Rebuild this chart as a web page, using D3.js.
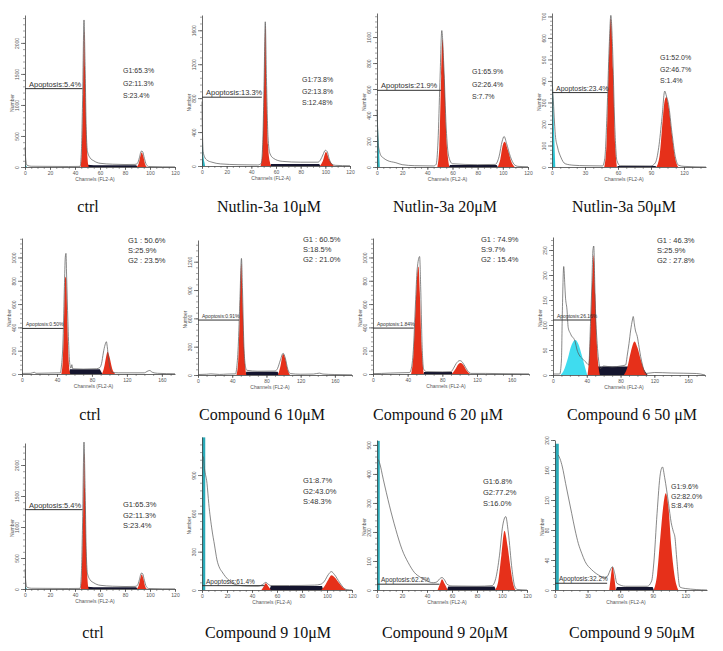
<!DOCTYPE html>
<html>
<head>
<meta charset="utf-8">
<script src="https://cdn.jsdelivr.net/npm/d3@7"></script>
<style>
body { margin: 0; background: #fff; }
svg { display: block; }
</style>
</head>
<body>
<div id="chart"></div>
<script>
// panel order: row 1 (Nutlin-3a), row 2 (Compound 6), row 3 (Compound 9)
const panelTitles = ["ctrl", "Nutlin-3a 10\u03bcM", "Nutlin-3a 20\u03bcM", "Nutlin-3a 50\u03bcM",
    "ctrl", "Compound 6 10\u03bcM", "Compound 6 20 \u03bcM", "Compound 6 50 \u03bcM",
    "ctrl", "Compound 9 10\u03bcM", "Compound 9 20\u03bcM", "Compound 9 50\u03bcM"];

const statLines = [
    ["G1:65.3%", "G2:11.3%", "S:23.4%"],
    ["G1:73.8%", "G2:13.8%", "S:12.48%"],
    ["G1:65.9%", "G2:26.4%", "S:7.7%"],
    ["G1:52.0%", "G2:46.7%", "S:1.4%"],
    ["G1 : 50.6%", "S:25.9%", "G2 : 23.5%"],
    ["G1 : 60.5%", "S:18.5%", "G2 : 21.0%"],
    ["G1 : 74.9%", "S:9.7%", "G2 : 15.4%"],
    ["G1 : 46.3%", "S:25.9%", "G2 : 27.8%"],
    ["G1:65.3%", "G2:11.3%", "S:23.4%"],
    ["G1:8.7%", "G2:43.0%", "S:48.3%"],
    ["G1:6.8%", "G2:77.2%", "S:16.0%"],
    ["G1:9.6%", "G2:82.0%", "S:8.4%"]
];

const apoptosisLabels = ["Apoptosis:5.4%", "Apoptosis:13.3%", "Apoptosis:21.9%", "Apoptosis:23.4%",
    "Apoptosis:0.50%", "Apoptosis:0.91%", "Apoptosis:1.84%", "Apoptosis:26.16%",
    "Apoptosis:5.4%", "Apoptosis:61.4%", "Apoptosis:62.2%", "Apoptosis:32.2%"];

// [count level, last channel] of the apoptosis marker
const apoptosisMarks = [[1263, 46], [811, 48.5], [590, 51], [346, 50.5],
    [391, 47.5], [582, 48], [394, 47], [110, 45],
    [1280, 46], [34, 50], [20, 50], [9, 48]];

const channelMax = [120, 120, 120, 140, 175, 180, 180, 180, 120, 120, 120, 140];
const channelStep = [20, 20, 20, 30, 40, 40, 40, 40, 20, 20, 20, 30];
const countMax = [2450, 1780, 1185, 716, 1167, 1430, 1167, 276, 2355, 1198, 517, 200];
const countStep = [500, 400, 200, 100, 200, 300, 200, 50, 500, 300, 100, 40];

// histogram outlines, [channel, count]
const ctrlOutline = [[0,320],[0.6,120],[1.5,30],[5,12],[20,10],[35,8],[44,10],[45,200],[46,1000],[47.2,2370],[48,1700],[49,600],[50,250],[52,150],[55,100],[60,60],[70,45],[80,40],[88,42],[90,60],[91.5,150],[93,255],[94,250],[95.5,140],[97,40],[99,8],[110,3],[120,2]];
const outlineData = [
    ctrlOutline,
    [[0,760],[0.4,380],[1,170],[2,110],[4,70],[8,45],[15,25],[30,15],[45,12],[48,30],[49.2,250],[50.3,950],[51.3,1700],[52.3,1000],[53.5,350],[55,150],[58,90],[65,55],[80,45],[94,45],[96,70],[98,130],[100,185],[101.5,170],[103,90],[105,25],[108,8],[120,3]],
    [[0,440],[0.5,300],[1,180],[2,120],[3,90],[5,70],[8,51],[15,33],[20,18],[30,10],[45,8],[47,20],[48.5,200],[50,650],[51.5,1050],[53,800],[55,300],[57,80],[60,25],[80,18],[94,20],[97,80],[99.5,200],[101,235],[103,180],[106,80],[109,20],[112,5],[120,2]],
    [[0,400],[1,330],[2,232],[3,150],[5,93],[8,46],[12,15],[20,8],[30,6],[46,5],[48,40],[50,250],[52,560],[53.5,705],[55,560],[57,200],[59,30],[62,6],[90,5],[94,20],[97,90],[100,230],[102.5,353],[104,330],[106,290],[109,160],[112,50],[115,8],[120,3],[140,0]],
    [[0,5],[10,6],[14,15],[16,6],[30,8],[44,10],[45,60],[47,300],[48.5,750],[49.5,1000],[50.3,1035],[51,850],[52.5,450],[54,150],[55,70],[56,50],[57,80],[58,45],[70,42],[85,45],[89,55],[91,90],[93,180],[95,250],[96.5,277],[97.5,235],[99,130],[101,45],[103,15],[110,10],[140,10],[143,22],[146,30],[149,15],[155,6],[175,2]],
    [[0,5],[10,8],[15,12],[25,6],[35,10],[44,12],[45,60],[47,300],[49,800],[50.8,1235],[52,900],[53.5,350],[55,120],[57,50],[70,40],[90,42],[93,70],[96,150],[99.5,230],[102,180],[105,60],[108,15],[120,8],[135,10],[142,20],[146,10],[160,5],[180,2]],
    [[0,3],[10,5],[20,8],[30,10],[42,12],[44,40],[46.5,200],[49,600],[51,900],[53.8,1008],[55,750],[56.5,280],[58.5,40],[62,20],[80,18],[90,20],[93,50],[96,90],[100,115],[102,110],[105,80],[109,30],[113,5],[130,5],[150,3],[180,1]],
    [[0,2],[8,2],[10,30],[11,120],[12.7,217],[14,180],[14.6,160],[16.6,130],[18,95],[20.6,83],[22,78],[24.6,73],[26,68],[28.5,50],[31,40],[34.5,33],[38,27],[40.4,23],[42.4,20],[44.4,103],[46,180],[47.3,250],[48.3,258],[49.5,180],[50.5,120],[52.3,63],[54,30],[56.2,13],[60,18],[70,16],[80,18],[86,20],[88,40],[90,63],[92,90],[94,110],[95,117],[96.5,100],[97.5,90],[99.8,77],[102,55],[103.8,37],[106,20],[109.7,3],[120,5],[140,4],[170,3],[180,0]],
    ctrlOutline,
    [[0,1050],[1,1044],[2,950],[4,835],[5.4,678],[8,470],[10,352],[12,235],[14.2,170],[16,143],[18.8,104],[22.8,65],[28,39],[36,31],[45,30],[47,35],[49.5,50],[51,60],[53,45],[55,35],[70,35],[90,38],[95,45],[98,70],[101,120],[103.5,144],[106,120],[110,60],[113,20],[116,3],[120,0]],
    [[1,450],[2,439],[5,382],[10,290],[15,209],[20,140],[25,94],[30,60],[35,43],[40,31],[45,25],[48,28],[50,38],[52,43],[54,35],[56,20],[60,14],[80,13],[92,15],[95,40],[98,120],[100.5,220],[103,253],[105,200],[108,71],[110,15],[112,2],[120,0]],
    [[3,180],[4.6,175],[6.8,164],[9.8,142],[12.3,124],[15.4,102],[18.5,80],[21.5,62],[24.6,49],[27.7,38],[33.8,27],[40,20],[46,16],[49,20],[51,27],[52.9,31],[55,22],[57,9],[65,5],[85,5],[89,12],[91,36],[94,102],[97,155],[99,164],[101,150],[104.6,115],[107,90],[109,78],[110.5,70],[112,44],[115,4],[120,2],[140,0]]
];

// fitted G1 peaks (red)
const ctrlG1 = [[44.5,0],[45.5,300],[46.5,1200],[47.3,2200],[48,1600],[49,600],[50,150],[51,0]];
const g1Data = [
    ctrlG1,
    [[47.5,0],[49,150],[50.3,900],[51.3,1650],[52.3,900],[53.5,250],[55,50],[56,0]],
    [[48,0],[49.5,150],[51,700],[52,985],[53.5,700],[55,250],[56.5,60],[57.5,0]],
    [[47.5,0],[49.5,100],[51.5,450],[53.5,690],[55.5,450],[57.5,100],[59,0]],
    [[45,0],[46.5,100],[48,400],[49.5,834],[50.5,820],[52,400],[53.5,100],[55.2,0]],
    [[45,0],[47,150],[49,700],[50.5,1180],[52,800],[54,250],[56.5,0]],
    [[44,0],[46.5,150],[49,550],[51,850],[52.5,923],[54,700],[56,250],[58.5,0]],
    [[41,0],[43,40],[45,120],[47,210],[48.3,240],[50,160],[52,60],[54,15],[55.5,0]],
    ctrlG1,
    [[47.5,0],[49.5,30],[51,52],[53,30],[55,0]],
    [[48.5,0],[50.5,22],[52,37],[54,22],[56.5,0]],
    [[50,0],[51.5,18],[53,31],[54.5,18],[56,0]]
];

// fitted G2 peaks (red)
const ctrlG2 = [[89.5,0],[91,60],[92.5,190],[93.3,235],[94.5,180],[96,50],[97.5,0]];
const g2Data = [
    ctrlG2,
    [[95.5,0],[98,60],[100.5,165],[103,80],[106,15],[107,0]],
    [[96,0],[98,60],[100,170],[101.5,195],[104,130],[107,35],[109.5,0]],
    [[95,0],[98,60],[101,240],[102.5,310],[104,325],[106,280],[109,150],[112,40],[114.7,0]],
    [[91.5,0],[94,60],[96,140],[98,191],[100,150],[103,50],[106.5,0]],
    [[93.5,0],[96,80],[99.5,222],[102,170],[105,50],[107.5,0]],
    [[91,0],[95,40],[98,80],[101,94],[104,80],[108,30],[112,0]],
    [[84,0],[88,15],[92,45],[96.6,67],[100,55],[104,30],[108,10],[111,0]],
    ctrlG2,
    [[95.5,0],[98,30],[101,80],[103.5,115],[106,100],[110,50],[113,15],[115.5,0]],
    [[94.5,0],[97,30],[99.5,120],[102,204],[104.5,150],[107,70],[109,20],[110.7,0]],
    [[91,0],[94,20],[97,70],[100,115],[102,129],[104.5,110],[107,60],[110,20],[113.5,0]]
];

// S-phase band (dark)
const ctrlS = [[49,0],[50,35],[55,30],[89,30],[90,0]];
const sBandData = [
    ctrlS,
    [[55,0],[56,25],[95,25],[96,0]],
    [[57,0],[58,15],[95,15],[96,0]],
    [[59,0],[60,5],[94,5],[95,0]],
    [[53,0],[55,40],[89,40],[92,0]],
    [[55,0],[56.5,35],[93,35],[95,0]],
    [[58,0],[59,17],[91,17],[92,0]],
    [[43,0],[47,17],[105,17],[112,0]],
    ctrlS,
    [[54,0],[55,31],[96,31],[97,0]],
    [[56,0],[57,12],[94,12],[95,0]],
    [[56,0],[57,4],[90,4],[91,0]]
];

// sub-G1 / debris (cyan)
const ctrlDebris = [[0,40],[1,20],[1.5,0]];
const debrisData = [
    ctrlDebris,
    [[0,340],[0.6,220],[1.2,110],[2,40],[2.5,0]],
    [[0,440],[0.8,300],[1.5,150],[2.2,0]],
    [[0,400],[1,330],[2,150],[3,0]],
    [], [], [],
    [[9,0],[13,10],[17,30],[22,60],[26.5,70],[30,62],[34,40],[38,15],[40.5,0]],
    ctrlDebris,
    [[0,1195],[2.6,1195]],
    [[0,514],[2.2,514]],
    [[0,195],[3.5,195]]
];

// layout: [left, right, top, bottom] of each plot area, in px
const frames = [[25,175,15,167],[202,350,15,166],[377,528,13,167],[552,706,13,167],
    [22,175,238,374],[198,352,240,375],[373,529,238,374],[553,705,237,375],
    [25,175,443,589],[202,352,437,590],[377,527,440,590],[555,707,440,590]];
// stats: [x, first baseline, line step, font size]
const statPos = [[123,73,12.5,7],[302,82,11.5,7],[472,74,12.5,7],[660,60,11.5,7],
    [128,243,10,7.5],[303,242,10,7.5],[481,242,10,7.5],[657,243,10,7.5],
    [123,507,10.5,7.5],[303,483,10.5,7.5],[483,484,11,7.5],[671,489,9.5,7]];
const titleX = [88, 269, 445, 624, 90, 262, 438, 632, 93, 268, 445, 632];
const titleY = [212, 212, 212, 212, 420, 420, 420, 420, 638, 638, 638, 638];
const apopFont = [7.5, 7.5, 7.5, 7, 5, 5, 5, 5, 7.5, 6.5, 6.5, 6.5];
const debrisColor = ["#2bb3c0", "#2bb3c0", "#2bb3c0", "#2bc4d4", "#2bb3c0", "#2bb3c0", "#2bb3c0", "#3fdcef",
    "#2bb3c0", "#2aaab8", "#2aaab8", "#2aaab8"];

const red = "#e6301a";
const sans = "'Liberation Sans', Arial, sans-serif";
const serif = "'Liberation Serif', 'Times New Roman', serif";

let svg = d3.select("#chart").append("svg")
    .attr("width", 723)
    .attr("height", 651)
    .style("font-family", sans);

panelTitles.forEach((title, i) => {
    let f = frames[i];
    let x = d3.scaleLinear().domain([0, channelMax[i]]).range([f[0], f[1]]);
    let y = d3.scaleLinear().domain([0, countMax[i]]).range([f[3], f[2]]);
    let g = svg.append("g");

    let area = d3.area()
        .x((d) => x(d[0]))
        .y0(y(0))
        .y1((d) => y(d[1]))
        .curve(d3.curveMonotoneX);
    let line = d3.line()
        .x((d) => x(d[0]))
        .y((d) => y(d[1]))
        .curve(d3.curveMonotoneX);

    if (debrisData[i].length) {
        g.append("path").attr("d", area(debrisData[i])).attr("fill", debrisColor[i]);
    }
    g.append("path").attr("d", d3.area().x((d) => x(d[0])).y0(y(0)).y1((d) => y(d[1]))(sBandData[i]))
        .attr("fill", "#15152e");
    g.append("path").attr("d", area(g1Data[i])).attr("fill", red);
    g.append("path").attr("d", area(g2Data[i])).attr("fill", red);
    g.append("path").attr("d", line(outlineData[i]))
        .attr("fill", "none")
        .attr("stroke", "#555")
        .attr("stroke-width", 0.7);

    // axes
    let yTicks = d3.range(0, countMax[i] + 1, countStep[i]);
    let yMinor = d3.range(0, countMax[i] + 1, countStep[i] / 5);
    let xTicks = d3.range(0, channelMax[i] + 1, channelStep[i]);
    let xMinor = d3.range(0, channelMax[i] + 1, channelStep[i] / 4);

    g.append("g")
        .attr("transform", "translate(" + f[0] + ",0)")
        .call(d3.axisLeft(y).tickValues(yMinor).tickSize(2).tickFormat(""))
        .call((a) => a.select(".domain").remove())
        .selectAll("line").attr("stroke", "#666").attr("stroke-width", 0.6);
    let yAxis = g.append("g")
        .attr("transform", "translate(" + f[0] + ",0)")
        .call(d3.axisLeft(y).tickValues(yTicks).tickFormat(d3.format("d")).tickSizeInner(4).tickSizeOuter(0));
    yAxis.select(".domain").attr("stroke", "#444").attr("stroke-width", 0.8);
    yAxis.selectAll("line").attr("stroke", "#444").attr("stroke-width", 0.7);
    yAxis.selectAll("text")
        .attr("x", 0).attr("dy", 0)
        .attr("text-anchor", "middle")
        .attr("transform", "translate(-6,0) rotate(-90)")
        .attr("font-size", 5)
        .attr("font-family", sans)
        .attr("fill", "#555");

    g.append("g")
        .attr("transform", "translate(0," + f[3] + ")")
        .call(d3.axisBottom(x).tickValues(xMinor).tickSize(2).tickFormat(""))
        .call((a) => a.select(".domain").remove())
        .selectAll("line").attr("stroke", "#666").attr("stroke-width", 0.6);
    let xAxis = g.append("g")
        .attr("transform", "translate(0," + f[3] + ")")
        .call(d3.axisBottom(x).tickValues(xTicks).tickSizeInner(3).tickSizeOuter(0).tickPadding(1));
    xAxis.select(".domain").attr("stroke", "#444").attr("stroke-width", 0.8);
    xAxis.selectAll("text")
        .attr("font-size", 5)
        .attr("font-family", sans)
        .attr("fill", "#555");
    xAxis.selectAll("line").attr("stroke", "#444").attr("stroke-width", 0.7);

    g.append("text")
        .attr("transform", "translate(" + (f[0] - 11) + "," + ((f[2] + f[3]) / 2 + 12) + ") rotate(-90)")
        .attr("text-anchor", "middle")
        .attr("font-size", 5)
        .attr("fill", "#555")
        .text("Number");
    g.append("text")
        .attr("x", (f[0] + f[1]) / 2 - 5)
        .attr("y", f[3] + 13.5)
        .attr("text-anchor", "middle")
        .attr("font-size", 5)
        .attr("fill", "#555")
        .text("Channels (FL2-A)");

    // apoptosis marker
    let am = apoptosisMarks[i];
    g.append("line")
        .attr("x1", x(0)).attr("x2", x(am[1]))
        .attr("y1", y(am[0])).attr("y2", y(am[0]))
        .attr("stroke", "#333")
        .attr("stroke-width", 1);
    g.append("text")
        .attr("x", x(0) + 4)
        .attr("y", y(am[0]) - 2)
        .attr("font-size", apopFont[i])
        .attr("fill", "#333")
        .text(apoptosisLabels[i]);

    // stats
    let sp = statPos[i];
    statLines[i].forEach((s, k) => {
        g.append("text")
            .attr("x", sp[0])
            .attr("y", sp[1] + k * sp[2])
            .attr("font-size", sp[3])
            .attr("fill", "#333")
            .text(s);
    });

    g.append("text")
        .attr("x", titleX[i])
        .attr("y", titleY[i])
        .attr("text-anchor", "middle")
        .style("font-family", serif)
        .attr("font-size", 16)
        .attr("fill", "#111")
        .text(title);
});
</script>
</body>
</html>
